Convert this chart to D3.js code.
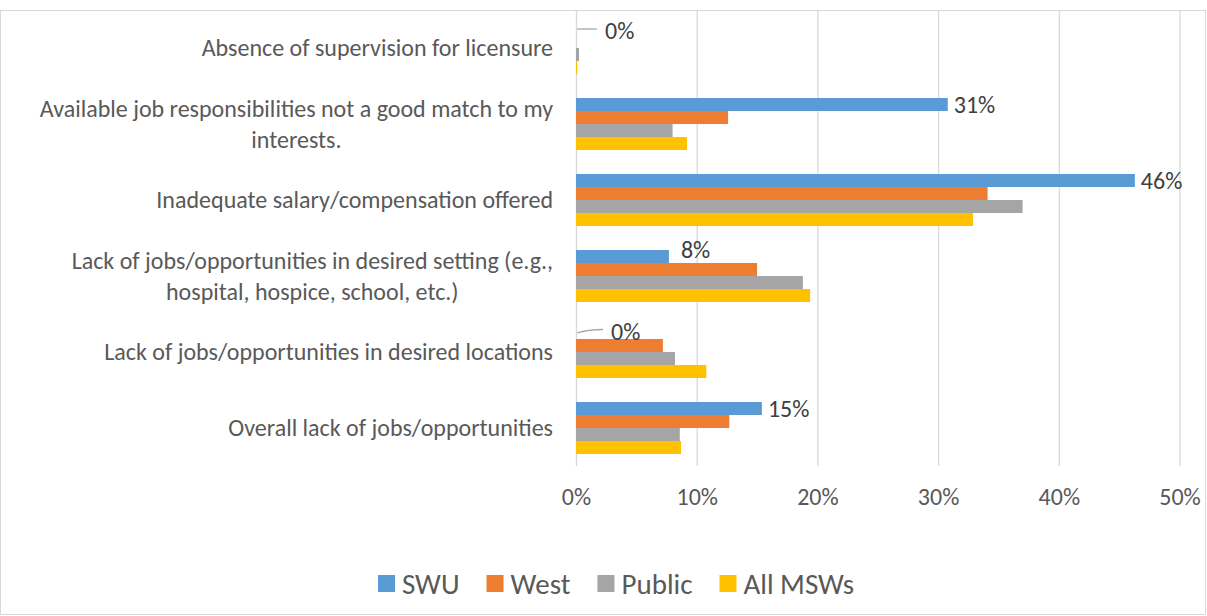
<!DOCTYPE html>
<html>
<head>
<meta charset="utf-8">
<script src="https://cdn.jsdelivr.net/npm/d3@7"></script>
<style>
  html, body { margin: 0; padding: 0; background: #fff; }
  svg { display: block; font-family: Carlito, Lato, "Open Sans", sans-serif; }
</style>
</head>
<body>
<svg id="chart" width="1207" height="616"></svg>
<script>
// Reasons respondents gave for not taking a job, by group (percent of respondents)
const categories = [
  ["Absence of supervision for licensure"],
  ["Available job responsibilities not a good match to my", "interests."],
  ["Inadequate salary/compensation offered"],
  ["Lack of jobs/opportunities in desired setting (e.g.,", "hospital, hospice, school, etc.)"],
  ["Lack of jobs/opportunities in desired locations"],
  ["Overall lack of jobs/opportunities"]
];
const seriesNames = ["SWU", "West", "Public", "All MSWs"];
const swu     = [0,    30.8, 46.3, 7.7,  0,    15.4];
const west    = [0,    12.6, 34.1, 15.0, 7.2,  12.7];
const pub     = [0.25, 8.0,  37.0, 18.8, 8.2,  8.6];
const allMsw  = [0.1,  9.2,  32.9, 19.4, 10.8, 8.7];
const xTicks  = [0, 10, 20, 30, 40, 50];
const colors  = ["#5B9BD5", "#ED7D31", "#A5A5A5", "#FFC000"];

const seriesValues = [swu, west, pub, allMsw];
const svg = d3.select("#chart");
const labelSize = "24px";

// chart frame
svg.append("rect")
  .attr("x", 0.5).attr("y", 10.5)
  .attr("width", 1205).attr("height", 604)
  .attr("fill", "none").attr("stroke", "#d9d9d9");

const plot = { left: 576, right: 1179.5, top: 10, bottom: 466 };

const x = d3.scaleLinear().domain([0, 50]).range([plot.left, plot.right]);
const y = d3.scaleBand()
  .domain(d3.range(categories.length))
  .range([plot.top, plot.bottom])
  .paddingInner(0.3158)
  .paddingOuter(0.158);
const ySub = d3.scaleBand()
  .domain(d3.range(seriesNames.length))
  .range([0, y.bandwidth()]);

// vertical gridlines
const grid = svg.append("g")
  .attr("transform", `translate(0,${plot.bottom})`)
  .call(d3.axisBottom(x).tickValues(xTicks).tickSize(-(plot.bottom - plot.top)).tickFormat(""));
grid.select(".domain").remove();
grid.selectAll(".tick line").attr("stroke", "#d9d9d9").attr("stroke-width", 1.3);

// tick labels
const axis = svg.append("g")
  .attr("transform", `translate(0,${plot.bottom})`)
  .call(d3.axisBottom(x).tickValues(xTicks).tickSize(0).tickPadding(0).tickFormat(d => d + "%"));
axis.select(".domain").remove();
axis.selectAll(".tick text")
  .attr("y", 31)
  .attr("dy", "0.35em")
  .attr("fill", "#595959")
  .style("font-size", labelSize)
  .style("font-family", "Carlito, Lato, sans-serif");

// bars
const groups = svg.append("g").selectAll("g")
  .data(categories.map((c, i) => i))
  .join("g")
  .attr("transform", i => `translate(0,${y(i)})`);

groups.selectAll("rect")
  .data(i => seriesValues.map((vals, s) => ({ s, v: vals[i] })))
  .join("rect")
  .attr("x", x(0))
  .attr("y", d => ySub(d.s))
  .attr("width", d => Math.max(0, x(d.v) - x(0)))
  .attr("height", ySub.bandwidth())
  .attr("fill", d => colors[d.s]);

// data labels for the SWU series
const labelLayer = svg.append("g");
swu.forEach((v, i) => {
  const cy = y(i) + ySub(0) + ySub.bandwidth() / 2;
  const txt = Math.round(v) + "%";
  let tx = x(v) + 6, ty = cy;
  if (v === 0) {
    // zero-length bar: label pulled out with a short leader line
    labelLayer.append("path")
      .attr("d", i === 0
        ? `M${x(0) + 1},${cy + 0.5} L${x(0) + 21},${cy + 0.5}`
        : `M${x(0) + 1},${cy + 0.5} Q${x(0) + 12},${cy - 3} ${x(0) + 27},${cy - 3}`)
      .attr("fill", "none").attr("stroke", "#a6a6a6").attr("stroke-width", 1.3);
    tx = x(0) + (i === 0 ? 29 : 35);
    ty = cy + (i === 0 ? 2 : -1);
  } else if (v < 10) {
    tx = x(v) + 12; ty = cy - 7;
  }
  labelLayer.append("text")
    .attr("x", tx).attr("y", ty)
    .attr("dy", "0.35em")
    .attr("fill", "#404040")
    .style("font-size", labelSize)
    .text(txt);
});

// category labels: block right-aligned, wrapped lines centred on each other
const catLayer = svg.append("g");
const lineH = 31;
categories.forEach((lines, i) => {
  const cy = y(i) + y.bandwidth() / 2;
  const t = catLayer.append("text")
    .attr("fill", "#595959")
    .style("font-size", labelSize)
    .attr("text-anchor", "middle");
  const spans = lines.map((ln, k) => t.append("tspan")
    .attr("y", cy + (k - (lines.length - 1) / 2) * lineH)
    .attr("dy", "0.35em")
    .text(ln));
  const w = d3.max(spans, s => s.node().getComputedTextLength());
  spans.forEach(s => s.attr("x", 553 - w / 2));
});

// legend
const legend = svg.append("g");
let lx = 378;
seriesNames.forEach((name, s) => {
  legend.append("rect")
    .attr("x", lx).attr("y", 575)
    .attr("width", 17).attr("height", 17)
    .attr("fill", colors[s]);
  const t = legend.append("text")
    .attr("x", lx + 24).attr("y", 583.5)
    .attr("dy", "0.35em")
    .attr("fill", "#595959")
    .style("font-size", "29px")
    .text(name);
  lx += 24 + t.node().getComputedTextLength() + 27;
});
</script>
</body>
</html>
